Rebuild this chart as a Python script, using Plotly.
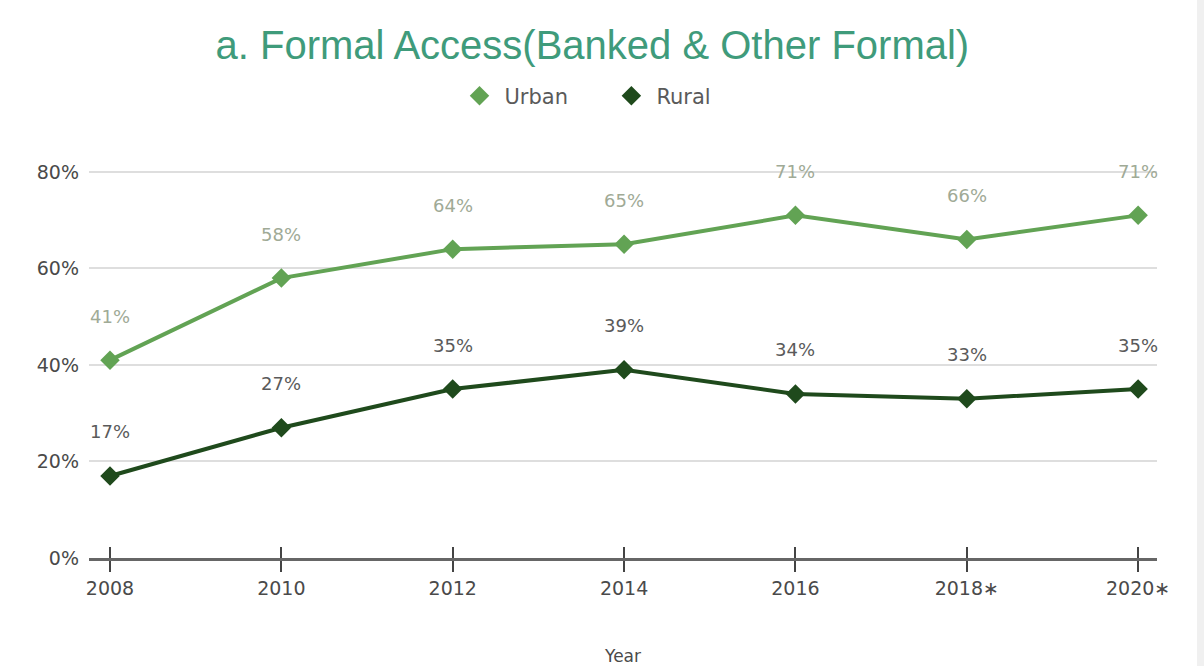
import plotly.graph_objects as go

# Survey years and share of adults with formal financial access (%)
years = [2008, 2010, 2012, 2014, 2016, 2018, 2020]
year_labels = ["2008", "2010", "2012", "2014", "2016", "2018∗", "2020∗"]
urban = [41, 58, 64, 65, 71, 66, 71]
rural = [17, 27, 35, 39, 34, 33, 35]

URBAN_COLOR = "#62a354"
RURAL_COLOR = "#1f4a1c"
FONT = "DejaVu Sans"

fig = go.Figure()

for name, series, color in (("Urban", urban, URBAN_COLOR), ("Rural", rural, RURAL_COLOR)):
    # connecting line
    fig.add_trace(go.Scatter(
        x=years, y=series, name=name, mode="lines", legendgroup=name,
        showlegend=False, line=dict(color=color, width=4), cliponaxis=False,
    ))
    # diamond markers (also used as the legend symbol)
    fig.add_trace(go.Scatter(
        x=years, y=series, name=name + "     ", mode="markers", legendgroup=name,
        marker=dict(symbol="diamond", size=15, color=color), cliponaxis=False,
    ))

# Value labels above each point
for series, color in ((urban, "#a0aa96"), (rural, "#5a5a5a")):
    for x, v in zip(years, series):
        fig.add_annotation(
            x=x, y=v, text=f"{v}%", showarrow=False, yshift=44,
            font=dict(family=FONT, size=18, color=color),
        )

x_range = [2008 - 0.245, 2020 + 0.22]

fig.update_layout(
    width=1204, height=666,
    paper_bgcolor="white", plot_bgcolor="white",
    margin=dict(l=89, r=47, t=170, b=108),
    title=dict(
        text="a. Formal Access(Banked & Other Formal)",
        x=0.492, xref="container", xanchor="center",
        y=1 - 45 / 666, yref="container", yanchor="middle",
        font=dict(family="Liberation Sans", size=40, color="#3f9b7b"),
    ),
    legend=dict(
        orientation="h", x=0.5, xref="container", xanchor="center",
        y=1 - 96 / 666, yref="container", yanchor="middle",
        font=dict(family=FONT, size=21, color="#5a5a5a"),
        itemwidth=40,
    ),
    xaxis=dict(
        range=x_range, tickvals=years, ticktext=year_labels,
        showgrid=False, zeroline=False, automargin=False,
        showline=True, linecolor="#666666", linewidth=3,
        ticks="outside", ticklen=11, tickwidth=2, tickcolor="#444444",
        tickfont=dict(family=FONT, size=19, color="#4a4a4a"),
        title=dict(text="Year", font=dict(family=FONT, size=17, color="#4a4a4a"),
                   standoff=54),
    ),
    xaxis2=dict(
        overlaying="x", anchor="y", range=x_range, tickvals=years,
        showticklabels=False, showgrid=False, zeroline=False, showline=False,
        ticks="inside", ticklen=11, tickwidth=2, tickcolor="#444444",
    ),
    yaxis=dict(
        range=[0, 80.4], tickvals=[0, 20, 40, 60, 80],
        ticktext=["0%", "20%", "40%", "60%", "80%"],
        showgrid=True, gridcolor="#dedede", gridwidth=2,
        zeroline=False, showline=False, ticks="",
        ticklabelstandoff=9,
        tickfont=dict(family=FONT, size=19, color="#4a4a4a"),
    ),
)

# Invisible helper trace so the overlaid tick axis is drawn
fig.add_trace(go.Scatter(
    x=years, y=urban, xaxis="x2", mode="none", showlegend=False,
    hoverinfo="skip",
))

# Faint frame along the right edge
fig.add_shape(type="rect", xref="paper", yref="paper",
              x0=1.0 + 40 / 1068, x1=1.0 + 47 / 1068,
              y0=-108 / 388, y1=1 + 170 / 388, line=dict(width=0),
              fillcolor="#f0f0f0", layer="below")

fig.write_html("out.html")
